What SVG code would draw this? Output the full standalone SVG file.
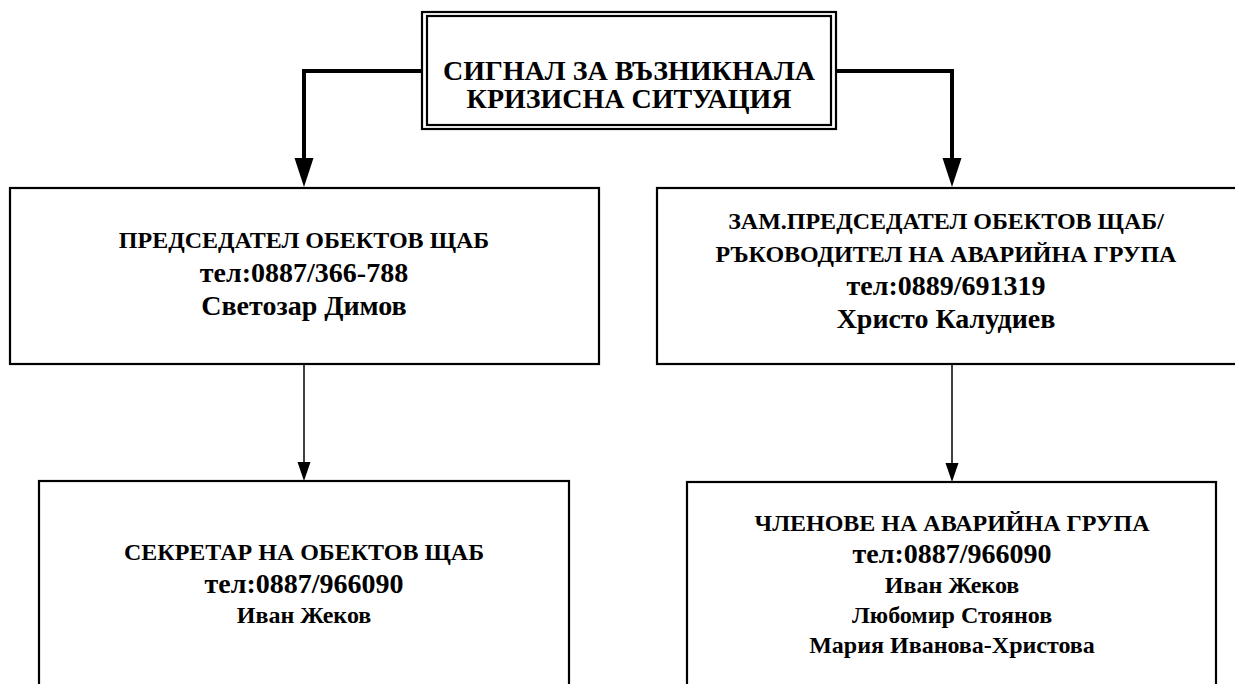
<svg xmlns="http://www.w3.org/2000/svg" width="1235" height="684" viewBox="0 0 1235 684">
<style>
.box{fill:#fff;stroke:#000;stroke-width:2.2}
.thick{fill:none;stroke:#000;stroke-width:4;stroke-linejoin:miter}
.thin{fill:none;stroke:#000;stroke-width:1.5}
text{font-family:"Liberation Serif","Times New Roman",serif;font-weight:bold;fill:#000;text-anchor:middle}
.t28{font-size:28px}
.t27{font-size:27px}
.t24{font-size:24px}
</style>
<defs>
<marker id="bigArrow" markerUnits="userSpaceOnUse" markerWidth="30" markerHeight="20" refX="0" refY="9.5" orient="auto">
<path d="M0,0 L29,9.5 L0,19 Z" fill="#000"/>
</marker>
<marker id="smallArrow" markerUnits="userSpaceOnUse" markerWidth="20" markerHeight="14" refX="0" refY="6.5" orient="auto">
<path d="M0,0 L19,6.5 L0,13 Z" fill="#000"/>
</marker>
</defs>
<rect width="1235" height="684" fill="#fff"/>
<g id="connectors">
<path class="thick" d="M422,71 H304 V158" marker-end="url(#bigArrow)"/>
<path class="thick" d="M836,71 H952 V158" marker-end="url(#bigArrow)"/>
<path class="thin" d="M304,364 V462" marker-end="url(#smallArrow)"/>
<path class="thin" d="M952,364 V463" marker-end="url(#smallArrow)"/>
</g>
<g id="signal">
<rect class="box" x="422" y="12" width="414" height="117"/>
<rect class="box" x="427" y="16" width="404" height="109"/>
<text class="t28" x="629" y="80">СИГНАЛ ЗА ВЪЗНИКНАЛА</text>
<text class="t28" x="629" y="108">КРИЗИСНА СИТУАЦИЯ</text>
</g>
<g id="chairman">
<rect class="box" x="10" y="188" width="589" height="176"/>
<text class="t24" x="304" y="248">ПРЕДСЕДАТЕЛ ОБЕКТОВ ЩАБ</text>
<text class="t28" x="304" y="282">тел:0887/366-788</text>
<text class="t28" x="304" y="315">Светозар Димов</text>
</g>
<g id="deputy">
<rect class="box" x="657" y="188" width="590" height="176"/>
<text class="t24" x="946" y="229">ЗАМ.ПРЕДСЕДАТЕЛ ОБЕКТОВ ЩАБ/</text>
<text class="t24" x="946" y="262">РЪКОВОДИТЕЛ НА АВАРИЙНА ГРУПА</text>
<text class="t28" x="946" y="295">тел:0889/691319</text>
<text class="t28" x="946" y="328">Христо Калудиев</text>
</g>
<g id="secretary">
<rect class="box" x="39" y="481" width="530" height="230"/>
<text class="t24" x="304" y="560">СЕКРЕТАР НА ОБЕКТОВ ЩАБ</text>
<text class="t28" x="304" y="593">тел:0887/966090</text>
<text class="t24" x="304" y="623">Иван Жеков</text>
</g>
<g id="members">
<rect class="box" x="687" y="482" width="529" height="230"/>
<text class="t24" x="952" y="531">ЧЛЕНОВЕ НА АВАРИЙНА ГРУПА</text>
<text class="t28" x="952" y="563">тел:0887/966090</text>
<text class="t24" x="952" y="593">Иван Жеков</text>
<text class="t24" x="952" y="623">Любомир Стоянов</text>
<text class="t24" x="952" y="653">Мария Иванова-Христова</text>
</g>
</svg>
